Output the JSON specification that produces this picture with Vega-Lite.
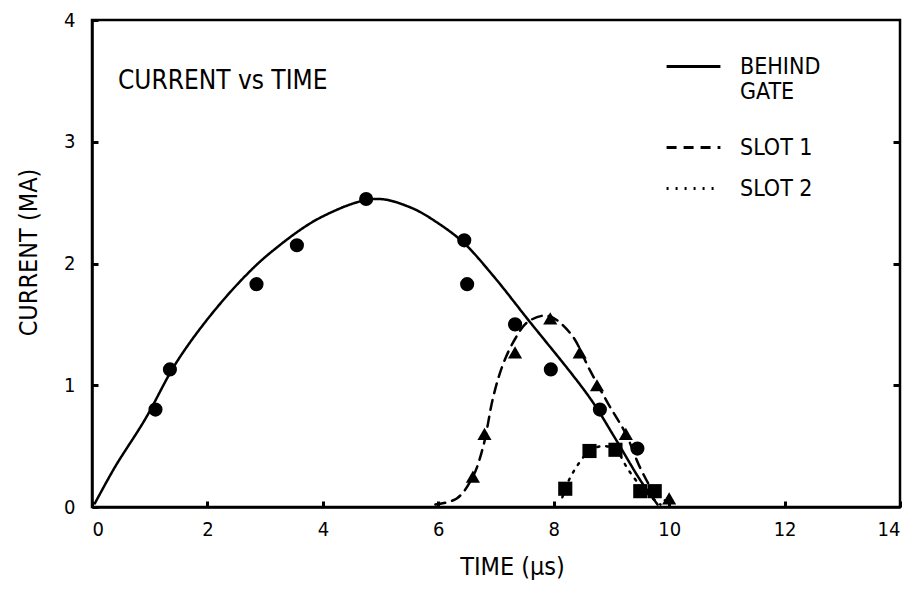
{
  "$schema": "https://vega.github.io/schema/vega-lite/v6.json",
  "width": 808,
  "height": 487,
  "autosize": {"type": "none"},
  "padding": {"left": 92, "top": 20, "right": 19, "bottom": 84},
  "background": "white",
  "config": {
    "font": "DejaVu Sans Condensed, DejaVu Sans",
    "view": {"stroke": "black", "strokeWidth": 2.5},
    "axis": {"grid": false, "domainColor": "black", "domainWidth": 2.5, "tickColor": "black", "tickWidth": 3, "labelColor": "black", "titleColor": "black", "labelFontSize": 20, "titleFontSize": 25, "titleFontWeight": "normal", "labelFont": "DejaVu Sans Condensed, DejaVu Sans", "titleFont": "DejaVu Sans Condensed, DejaVu Sans"},
    "legend": {"title": null, "symbolType": "stroke", "symbolSize": 2900, "symbolStrokeWidth": 3, "symbolStrokeColor": "black", "labelFontSize": 23, "labelColor": "black", "labelOffset": 18}
  },
  "datasets": {
    "curves": [
      {"series": "BEHIND GATE", "t": 0.05, "i": 0.03},
      {"series": "BEHIND GATE", "t": 0.4, "i": 0.33},
      {"series": "BEHIND GATE", "t": 0.92, "i": 0.72},
      {"series": "BEHIND GATE", "t": 1.44, "i": 1.17},
      {"series": "BEHIND GATE", "t": 1.98, "i": 1.53},
      {"series": "BEHIND GATE", "t": 2.6, "i": 1.87},
      {"series": "BEHIND GATE", "t": 3.12, "i": 2.1},
      {"series": "BEHIND GATE", "t": 3.97, "i": 2.38},
      {"series": "BEHIND GATE", "t": 4.9, "i": 2.53},
      {"series": "BEHIND GATE", "t": 5.52, "i": 2.46},
      {"series": "BEHIND GATE", "t": 6.0, "i": 2.33},
      {"series": "BEHIND GATE", "t": 6.44, "i": 2.17},
      {"series": "BEHIND GATE", "t": 6.95, "i": 1.9},
      {"series": "BEHIND GATE", "t": 7.52, "i": 1.56},
      {"series": "BEHIND GATE", "t": 8.62, "i": 0.9},
      {"series": "BEHIND GATE", "t": 9.07, "i": 0.56},
      {"series": "BEHIND GATE", "t": 9.5, "i": 0.22},
      {"series": "BEHIND GATE", "t": 9.8, "i": 0.02},
      {"series": "SLOT 1", "t": 5.95, "i": 0.02},
      {"series": "SLOT 1", "t": 6.32, "i": 0.07},
      {"series": "SLOT 1", "t": 6.6, "i": 0.25},
      {"series": "SLOT 1", "t": 6.78, "i": 0.5},
      {"series": "SLOT 1", "t": 6.95, "i": 0.9},
      {"series": "SLOT 1", "t": 7.12, "i": 1.17},
      {"series": "SLOT 1", "t": 7.33, "i": 1.38},
      {"series": "SLOT 1", "t": 7.55, "i": 1.52},
      {"series": "SLOT 1", "t": 7.9, "i": 1.57},
      {"series": "SLOT 1", "t": 8.3, "i": 1.42},
      {"series": "SLOT 1", "t": 8.62, "i": 1.13},
      {"series": "SLOT 1", "t": 8.93, "i": 0.86},
      {"series": "SLOT 1", "t": 9.25, "i": 0.6},
      {"series": "SLOT 1", "t": 9.5, "i": 0.32},
      {"series": "SLOT 1", "t": 9.72, "i": 0.14},
      {"series": "SLOT 1", "t": 10.0, "i": 0.03},
      {"series": "SLOT 2", "t": 8.15, "i": 0.08},
      {"series": "SLOT 2", "t": 8.2, "i": 0.15},
      {"series": "SLOT 2", "t": 8.33, "i": 0.28},
      {"series": "SLOT 2", "t": 8.62, "i": 0.46},
      {"series": "SLOT 2", "t": 8.85, "i": 0.5},
      {"series": "SLOT 2", "t": 9.07, "i": 0.47},
      {"series": "SLOT 2", "t": 9.3, "i": 0.3},
      {"series": "SLOT 2", "t": 9.6, "i": 0.12},
      {"series": "SLOT 2", "t": 9.85, "i": 0.02}
    ],
    "points": [
      {"group": "gate", "t": 1.1, "i": 0.8},
      {"group": "gate", "t": 1.35, "i": 1.13},
      {"group": "gate", "t": 2.85, "i": 1.83},
      {"group": "gate", "t": 3.55, "i": 2.15},
      {"group": "gate", "t": 4.75, "i": 2.53},
      {"group": "gate", "t": 6.45, "i": 2.19},
      {"group": "gate", "t": 6.5, "i": 1.83},
      {"group": "gate", "t": 7.33, "i": 1.5},
      {"group": "gate", "t": 7.95, "i": 1.13},
      {"group": "gate", "t": 8.8, "i": 0.8},
      {"group": "gate", "t": 9.45, "i": 0.48},
      {"group": "slot1", "t": 6.6, "i": 0.25},
      {"group": "slot1", "t": 6.8, "i": 0.6},
      {"group": "slot1", "t": 7.33, "i": 1.27},
      {"group": "slot1", "t": 7.94, "i": 1.55},
      {"group": "slot1", "t": 8.45, "i": 1.27},
      {"group": "slot1", "t": 8.75, "i": 1.0},
      {"group": "slot1", "t": 9.25, "i": 0.6},
      {"group": "slot1", "t": 10.0, "i": 0.07},
      {"group": "slot2", "t": 8.2, "i": 0.15},
      {"group": "slot2", "t": 8.62, "i": 0.46},
      {"group": "slot2", "t": 9.07, "i": 0.47},
      {"group": "slot2", "t": 9.5, "i": 0.13},
      {"group": "slot2", "t": 9.75, "i": 0.13}
    ]
  },
  "layer": [
    {
      "data": {"name": "curves"},
      "transform": [{"filter": "datum.series == 'BEHIND GATE'"}],
      "mark": {"type": "line", "interpolate": "catmull-rom", "color": "black", "strokeWidth": 2.5, "strokeCap": "round"},
      "encoding": {
        "x": {"field": "t", "type": "quantitative", "scale": {"domain": [0, 14], "nice": false, "zero": false},
              "axis": {"values": [0, 2, 4, 6, 8, 10, 12, 14], "format": "d", "title": "TIME (µs)", "tickSize": -6, "labelPadding": 18, "titleX": 420, "titlePadding": 15, "titleAlign": "center"}},
        "y": {"field": "i", "type": "quantitative", "scale": {"domain": [0, 4], "nice": false},
              "axis": {"values": [0, 1, 2, 3, 4], "format": "d", "title": "CURRENT (MA)", "tickSize": -6, "labelPadding": 23, "titlePadding": 22, "titleY": 232}},
        "strokeDash": {"field": "series", "type": "nominal",
          "scale": {"domain": ["BEHIND GATE"], "range": [[1, 0]]},
          "legend": {"orient": "none", "legendX": 573, "legendY": 18, "labelExpr": "['BEHIND', 'GATE']"}}
      }
    },
    {
      "data": {"name": "curves"},
      "transform": [{"filter": "datum.series != 'BEHIND GATE'"}],
      "mark": {"type": "line", "interpolate": "catmull-rom", "color": "black", "strokeWidth": 2.5, "strokeCap": "round"},
      "encoding": {
        "x": {"field": "t", "type": "quantitative"},
        "y": {"field": "i", "type": "quantitative", "axis": null},
        "strokeDash": {"field": "series", "type": "nominal",
          "scale": {"domain": ["SLOT 1", "SLOT 2"], "range": [[10, 7], [2, 7]]},
          "legend": {"orient": "none", "legendX": 573, "legendY": 99, "rowPadding": -3}}
      }
    },
    {
      "data": {"name": "points"},
      "mark": {"type": "point", "filled": true, "color": "black", "opacity": 1, "size": 200},
      "encoding": {
        "x": {"field": "t", "type": "quantitative"},
        "y": {"field": "i", "type": "quantitative",
              "axis": {"orient": "right", "values": [1, 2, 3], "labels": false, "title": null, "domain": false, "tickSize": -7}},
        "shape": {"field": "group", "type": "nominal",
          "scale": {"domain": ["gate", "slot1", "slot2"], "range": ["circle", "triangle-up", "square"]},
          "legend": null}
      }
    },
    {
      "data": {"values": [{"label": "CURRENT vs TIME"}]},
      "mark": {"type": "text", "align": "left", "baseline": "middle", "fontSize": 26, "color": "black"},
      "encoding": {
        "x": {"datum": 0.45},
        "y": {"datum": 3.5, "axis": null},
        "text": {"field": "label"}
      }
    }
  ],
  "resolve": {"axis": {"y": "independent"}, "scale": {"strokeDash": "independent"}}
}
